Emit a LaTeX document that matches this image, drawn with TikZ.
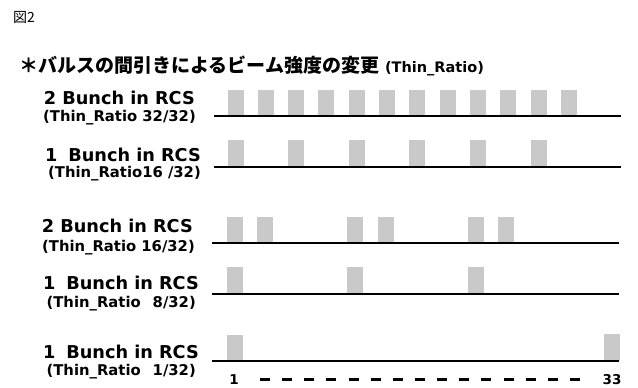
\documentclass[tikz,border=0pt]{standalone}
\usepackage{fontspec}
\setmainfont{DejaVu Sans}
\newfontfamily\jp{Noto Sans CJK JP}
\tikzset{
  pulse/.style={fill=black!21, draw=none},
  baseln/.style={line width=2pt, black},
  bunchlbl/.style={anchor=east, inner sep=0pt, font=\fontsize{17.7}{17.7}\bfseries\selectfont},
  ratiolbl/.style={anchor=east, inner sep=0pt, font=\fontsize{14.8}{14.8}\bfseries\selectfont},
  ticklbl/.style={inner sep=0pt, font=\fontsize{13.5}{13.5}\bfseries\selectfont},
  dashmark/.style={line width=3pt, black}
}
\begin{document}
\begin{tikzpicture}[x=1pt,y=-1pt]
\useasboundingbox[fill=white] (0,0) rectangle (638,388);
% header
\node[anchor=west, inner sep=0pt, font=\jp\fontsize{14}{14}\selectfont] (fig) at (13,17) {図2};
\node[anchor=west, inner sep=0pt] (title) at (19,66)
  {{\jp\bfseries\fontsize{19}{19}\selectfont ＊バルスの間引きによるビーム強度の変更}\hspace{6pt}{\fontsize{14.5}{14.5}\bfseries\selectfont (Thin\_Ratio)}};
% labels
\node[bunchlbl] (b1) at (195,98) {2 Bunch in RCS};
\node[ratiolbl] (r1) at (196,118) {(Thin\_Ratio 32/32)};
\node[bunchlbl] (b2) at (201,155) {1\hspace{11pt}Bunch in RCS};
\node[ratiolbl] (r2) at (201,174) {(Thin\_Ratio16 /32)};
\node[bunchlbl] (b3) at (193,226) {2 Bunch in RCS};
\node[ratiolbl] (r3) at (195,248) {(Thin\_Ratio 16/32)};
\node[bunchlbl] (b4) at (199,283) {1\hspace{11pt}Bunch in RCS};
\node[ratiolbl] (r4) at (196,304) {(Thin\_Ratio\hspace{12pt}8/32)};
\node[bunchlbl] (b5) at (199,352) {1\hspace{11pt}Bunch in RCS};
\node[ratiolbl] (r5) at (196,372) {(Thin\_Ratio\hspace{12pt}1/32)};
% pulses
\foreach \k in {0,...,11} \fill[pulse] ({227.5+30.3*\k},90) rectangle ++(16,25);
\foreach \k in {0,2,4,6,8,10} \fill[pulse] ({227.5+30.3*\k},140) rectangle ++(16,26);
\foreach \k in {0,1,4,5,8,9} \fill[pulse] ({226.5+30.2*\k},217) rectangle ++(16,25);
\foreach \k in {0,4,8} \fill[pulse] ({226.5+30.2*\k},267) rectangle ++(16,26);
\fill[pulse] (226.5,335) rectangle ++(16,26);
\fill[pulse] (604,334) rectangle ++(16,27);
% baselines
\coordinate (l1a) at (214,115.5); \coordinate (l1b) at (621,115.5);
\coordinate (l2a) at (214,166.5); \coordinate (l2b) at (621,166.5);
\coordinate (l3a) at (212,242.5); \coordinate (l3b) at (619,242.5);
\coordinate (l4a) at (212,293.5); \coordinate (l4b) at (619,293.5);
\coordinate (l5a) at (212,361);   \coordinate (l5b) at (619,361);
\draw[baseln] (l1a) -- (l1b);
\draw[baseln] (l2a) -- (l2b);
\draw[baseln] (l3a) -- (l3b);
\draw[baseln] (l4a) -- (l4b);
\draw[baseln] (l5a) -- (l5b);
% axis labels
\node[ticklbl] (t1) at (234,380) {1};
\node[ticklbl] (t33) at (612,380) {33};
\foreach \i in {0,...,14} \draw[dashmark] ({260+22.14*\i},379.5) -- ++(10,0);
\end{tikzpicture}
\end{document}
